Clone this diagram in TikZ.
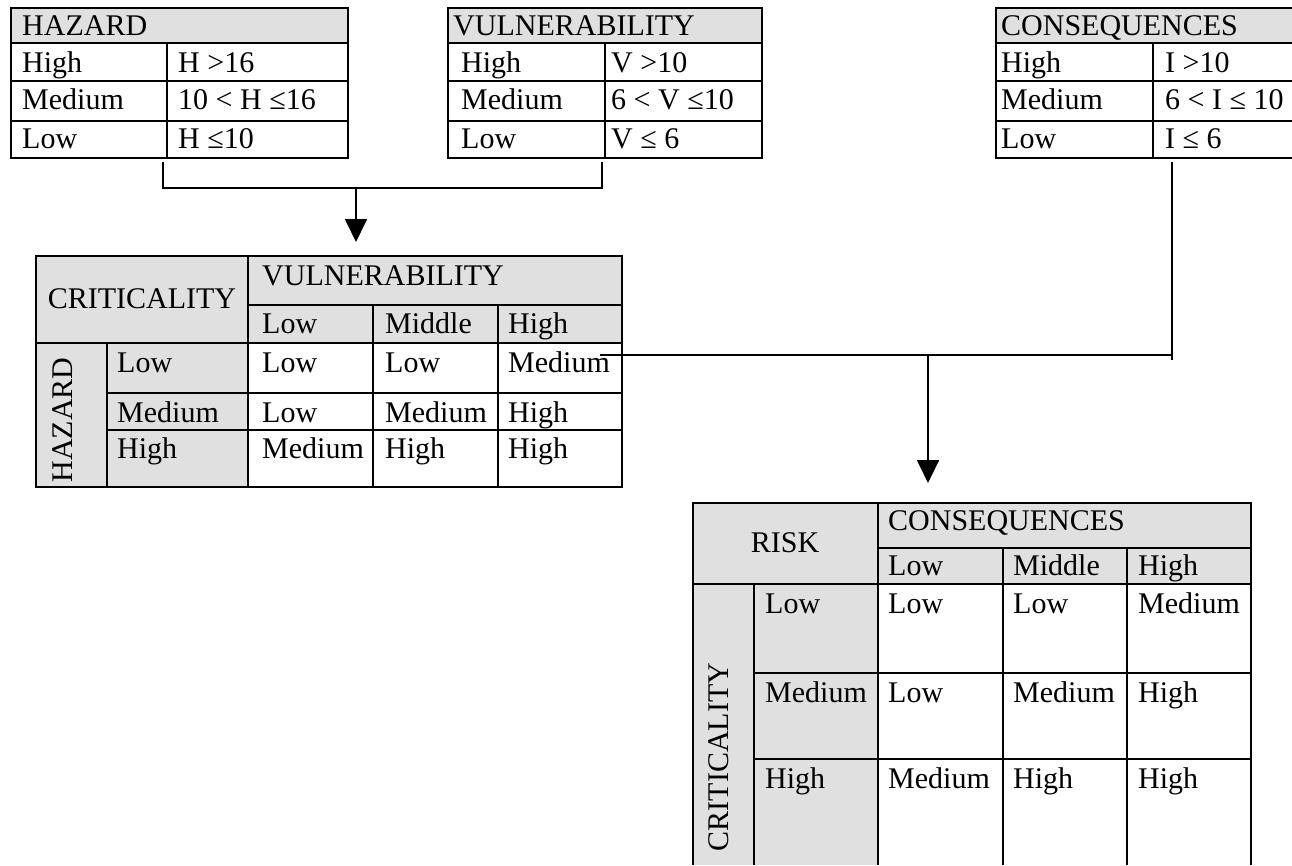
\documentclass[tikz,border=0pt]{standalone}
\usepackage{fontspec}
\setmainfont{Liberation Serif}
\usetikzlibrary{arrows.meta}
\definecolor{cellgrey}{RGB}{224,224,224}

\begin{document}
\begin{tikzpicture}[x=1pt, y=-1pt,
  every node/.style = {font=\fontsize{30}{36}\selectfont, inner sep=0pt},
  txt/.style = {anchor=base west},
  tbl/.style = {line width=2pt},
  greyfill/.style = {fill=cellgrey},
  conn/.style = {line width=1.8pt},
  arrowtip/.style = {-{Triangle[length=23pt,width=22pt]}}]
\useasboundingbox (0,0) rectangle (1292,865);

% hazard classes
\fill[greyfill] (11,8) rectangle (348,43);
\draw[tbl] (11,8) rectangle (348,158);
\foreach \y in {43,81,121} \draw[tbl] (11,\y) -- (348,\y);
\draw[tbl] (167,43) -- (167,158);
\node[txt] (hz) at (22,35) {HAZARD};
\node[txt] (hz1) at (22,72) {High};
\node[txt] (hz1v) at (178,72) {H >16};
\node[txt] (hz2) at (22,109) {Medium};
\node[txt] (hz2v) at (178,109) {10 < H ≤16};
\node[txt] (hz3) at (22,148) {Low};
\node[txt] (hz3v) at (178,148) {H ≤10};

% vulnerability classes
\fill[greyfill] (448,8) rectangle (762,43);
\draw[tbl] (448,8) rectangle (762,158);
\foreach \y in {43,81,121} \draw[tbl] (448,\y) -- (762,\y);
\draw[tbl] (605,43) -- (605,158);
\node[txt] (vl) at (453,35) {VULNERABILITY};
\node[txt] (vl1) at (461,72) {High};
\node[txt] (vl1v) at (611,72) {V >10};
\node[txt] (vl2) at (461,109) {Medium};
\node[txt] (vl2v) at (611,109) {6 < V ≤10};
\node[txt] (vl3) at (461,148) {Low};
\node[txt] (vl3v) at (611,148) {V ≤ 6};

% consequence classes
\fill[greyfill] (996,8) rectangle (1292,43);
\draw[tbl] (1292,8) -- (996,8) -- (996,158) -- (1292,158);
\foreach \y in {43,81,121} \draw[tbl] (996,\y) -- (1292,\y);
\draw[tbl] (1153,43) -- (1153,158);
\node[txt] (cs) at (1001,35) {CONSEQUENCES};
\node[txt] (cs1) at (1001,72) {High};
\node[txt] (cs1v) at (1165,72) {I >10};
\node[txt] (cs2) at (1001,109) {Medium};
\node[txt] (cs2v) at (1165,109) {6 < I ≤ 10};
\node[txt] (cs3) at (1001,148) {Low};
\node[txt] (cs3v) at (1165,148) {I ≤ 6};

% criticality matrix
\fill[greyfill] (36,256) rectangle (622,343);
\fill[greyfill] (36,343) rectangle (248,487);
\draw[tbl] (36,256) rectangle (622,487);
\draw[tbl] (248,305) -- (622,305);
\draw[tbl] (36,343) -- (622,343);
\foreach \y in {393,430} \draw[tbl] (107,\y) -- (622,\y);
\draw[tbl] (248,256) -- (248,487);
\draw[tbl] (107,343) -- (107,487);
\foreach \x in {373,498} \draw[tbl] (\x,305) -- (\x,487);
\node (cr) at (142,299) {CRITICALITY};
\node[txt] (crv) at (262,285) {VULNERABILITY};
\node[txt] (crv1) at (262,333) {Low};
\node[txt] (crv2) at (385,333) {Middle};
\node[txt] (crv3) at (508,333) {High};
\node[rotate=90] (crh) at (63,420) {HAZARD};
\node[txt] (crh1) at (117,372) {Low};
\node[txt] (crh2) at (117,422) {Medium};
\node[txt] (crh3) at (117,458) {High};
\node[txt] (cr11) at (262,372) {Low};
\node[txt] (cr12) at (385,372) {Low};
\node[txt] (cr13) at (508,372) {Medium};
\node[txt] (cr21) at (262,422) {Low};
\node[txt] (cr22) at (385,422) {Medium};
\node[txt] (cr23) at (508,422) {High};
\node[txt] (cr31) at (262,458) {Medium};
\node[txt] (cr32) at (385,458) {High};
\node[txt] (cr33) at (508,458) {High};

% risk matrix
\fill[greyfill] (693,503) rectangle (1251,584);
\fill[greyfill] (693,584) rectangle (878,865);
\draw[tbl] (693,865) -- (693,503) -- (1251,503) -- (1251,865);
\draw[tbl] (878,548) -- (1251,548);
\draw[tbl] (693,584) -- (1251,584);
\foreach \y in {673,759} \draw[tbl] (754,\y) -- (1251,\y);
\draw[tbl] (878,503) -- (878,865);
\draw[tbl] (754,584) -- (754,865);
\foreach \x in {1003,1127} \draw[tbl] (\x,548) -- (\x,865);
\node (rk) at (785,543) {RISK};
\node[txt] (rkc) at (888,530) {CONSEQUENCES};
\node[txt] (rkc1) at (888,575) {Low};
\node[txt] (rkc2) at (1013,575) {Middle};
\node[txt] (rkc3) at (1138,575) {High};
\node[rotate=90] (rkr) at (719,757) {CRITICALITY};
\node[txt] (rkr1) at (765,613) {Low};
\node[txt] (rkr2) at (765,702) {Medium};
\node[txt] (rkr3) at (765,788) {High};
\node[txt] (rk11) at (888,613) {Low};
\node[txt] (rk12) at (1013,613) {Low};
\node[txt] (rk13) at (1138,613) {Medium};
\node[txt] (rk21) at (888,702) {Low};
\node[txt] (rk22) at (1013,702) {Medium};
\node[txt] (rk23) at (1138,702) {High};
\node[txt] (rk31) at (888,788) {Medium};
\node[txt] (rk32) at (1013,788) {High};
\node[txt] (rk33) at (1138,788) {High};

% connectors
\coordinate (hzout) at (163,162);
\coordinate (vlout) at (602,162);
\coordinate (join1) at (356,188);
\coordinate (crin) at (356,242);
\coordinate (csout) at (1172,162);
\coordinate (crout) at (600,355);
\coordinate (join2) at (928,355);
\coordinate (rkin) at (928,483);
\draw[conn] (hzout) |- (join1) -| (vlout);
\draw[conn, arrowtip] (join1) -- (crin);
\draw[conn] (crout) -- (csout |- crout);
\draw[conn] (csout) -- ++(0,198);
\draw[conn, arrowtip] (join2) -- (rkin);
\end{tikzpicture}
\end{document}
